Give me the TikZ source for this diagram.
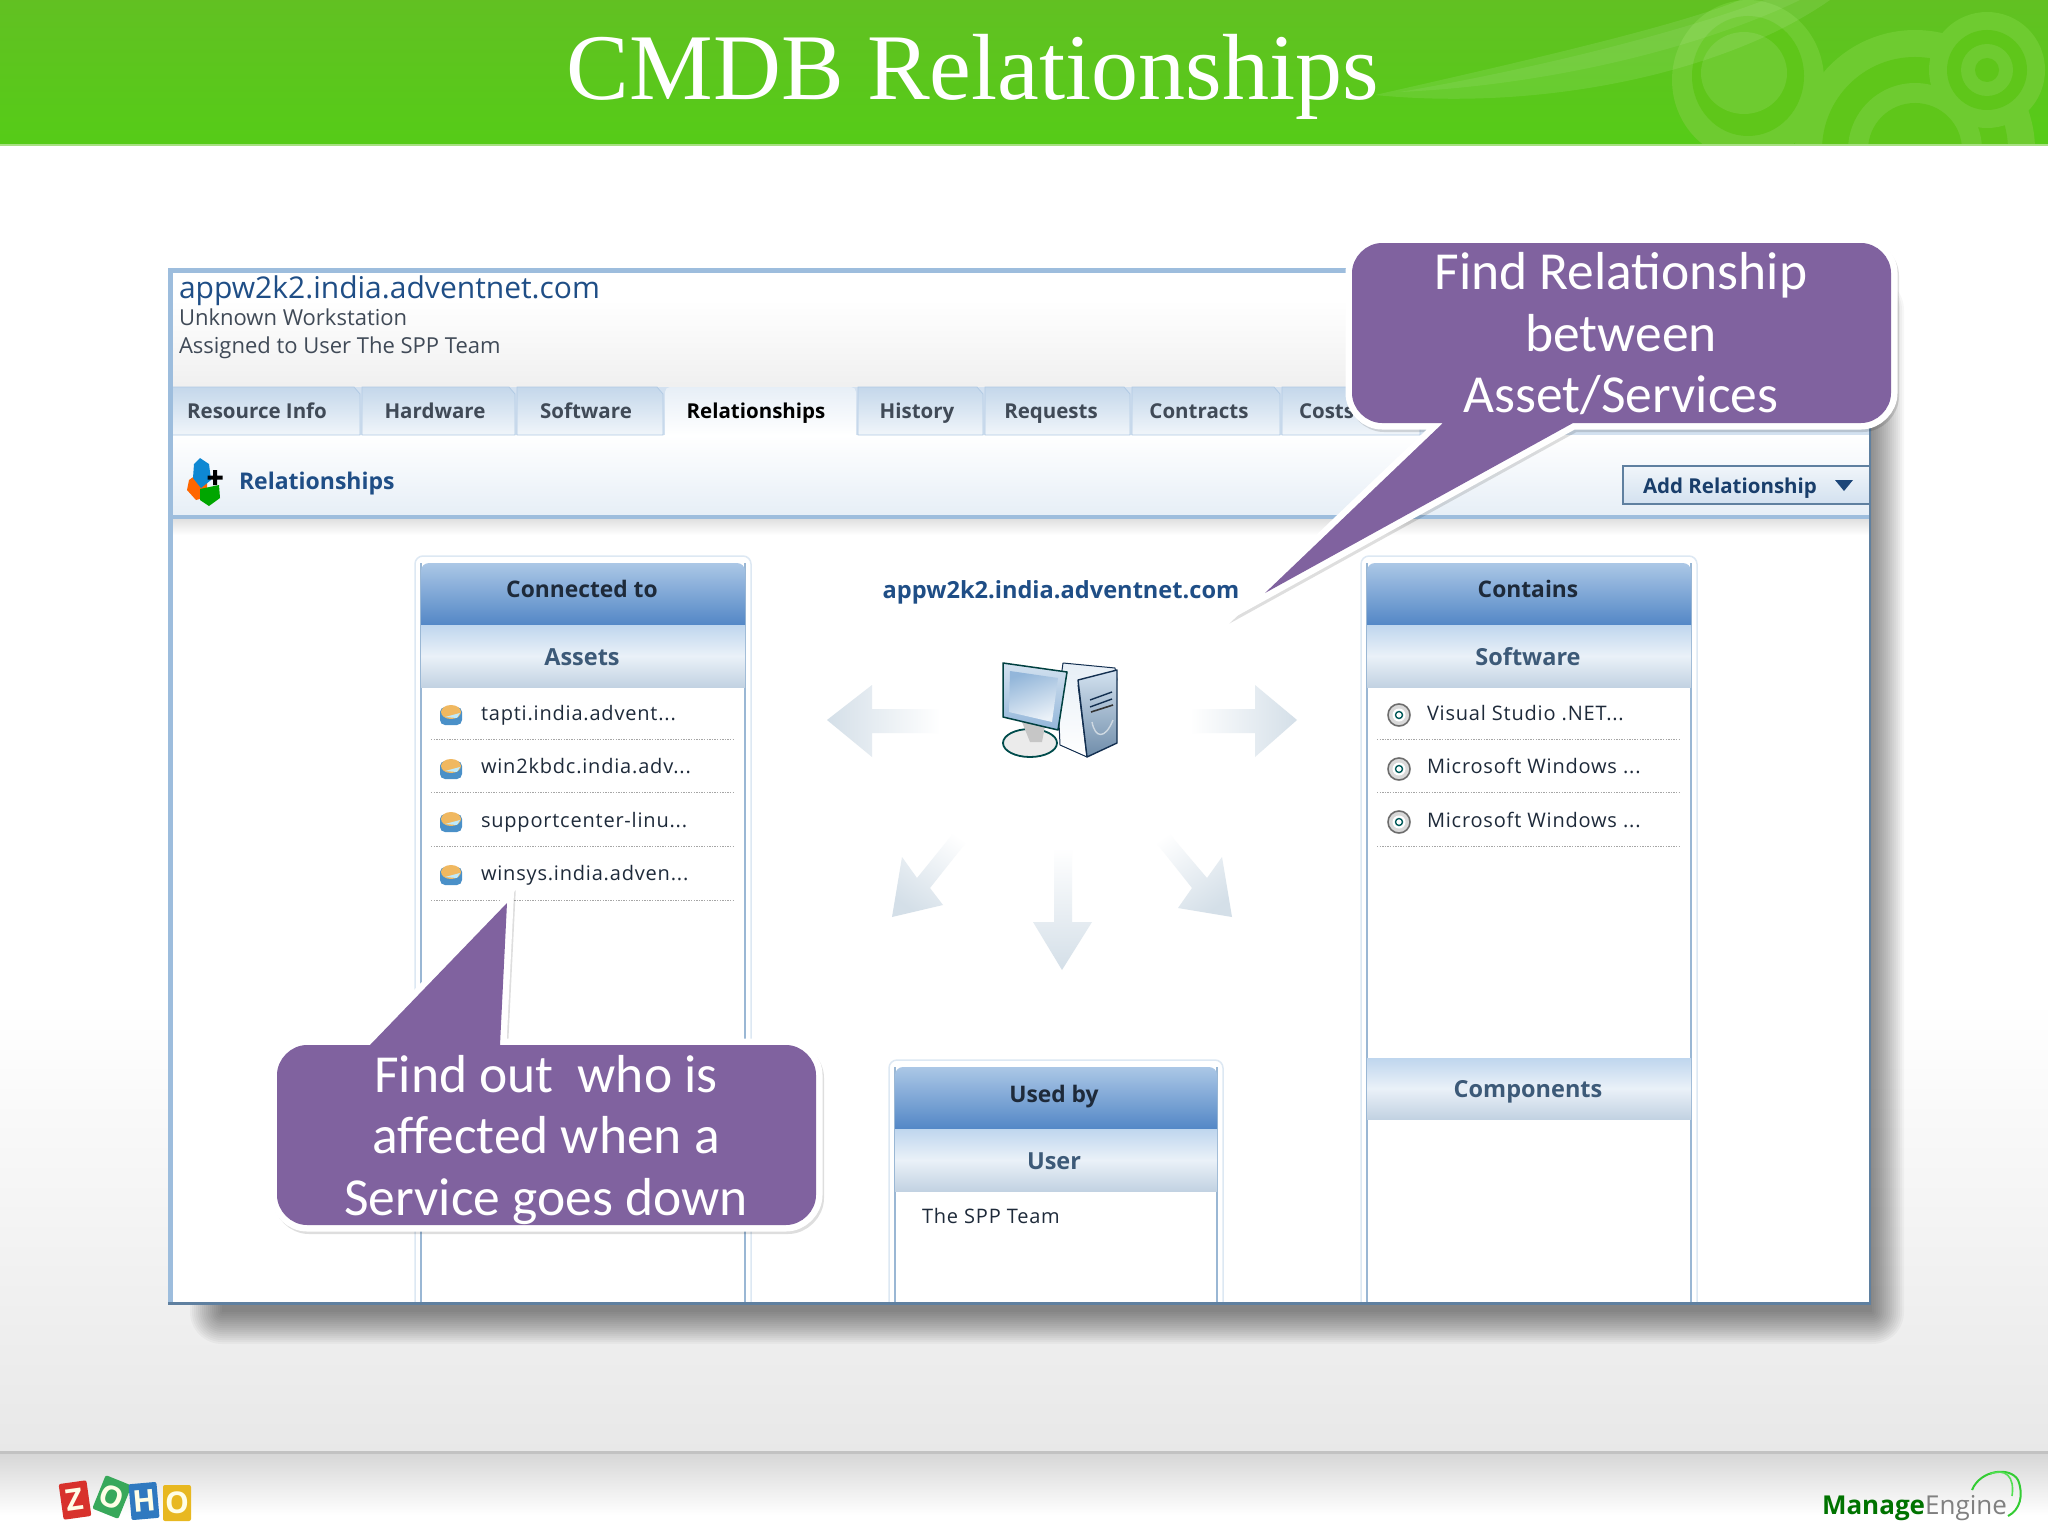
\documentclass[tikz,border=0pt]{standalone}
\usepackage{fontspec}
\setmainfont{Open Sans}
\newfontfamily\titlef{Liberation Serif}
\newfontfamily\callf{Carlito}
\newfontfamily\uif{Open Sans}
\newfontfamily\itemf[LetterSpace=4]{Open Sans}
\newcommand\fsz[1]{\fontsize{#1}{#1}\selectfont}
\definecolor{barg}{HTML}{5FC61A}
\definecolor{barl}{HTML}{6ECB30}
\definecolor{purp}{HTML}{80629F}
\definecolor{navy}{HTML}{1F4E86}
\definecolor{ink}{HTML}{1E2A3A}
\definecolor{headtop}{HTML}{ABC7E6}
\definecolor{headbot}{HTML}{5387C6}
\definecolor{bandtop}{HTML}{BFD6EE}
\definecolor{bandmid}{HTML}{EAF1F8}
\definecolor{bandbot}{HTML}{C2D2E2}
\definecolor{bandink}{HTML}{3D5A78}
\definecolor{frm}{HTML}{9DBDDD}
\definecolor{frd}{HTML}{5F80A0}
\definecolor{arw}{HTML}{D4DFE8}
\definecolor{ztr}{HTML}{D8322C}
\definecolor{ztg}{HTML}{38A85A}
\definecolor{ztb}{HTML}{2F79C0}
\definecolor{zty}{HTML}{E8B820}
\definecolor{diskt}{HTML}{F0B860}
\definecolor{diskb}{HTML}{4A90C8}
\tikzset{
  x=1pt,y=-1pt,
  every node/.style={inner sep=0pt,outer sep=0pt},
  uitext/.style={font=\uif\fsz{22},text=ink!85},
  itemtext/.style={font=\itemf\fsz{20},text=ink,anchor=base west},
  tablabel/.style={font=\uif\bfseries\fsz{20.5},text=ink!85,anchor=base},
  headlabel/.style={font=\uif\bfseries\fsz{22.8},text=ink,anchor=base},
  bandlabel/.style={font=\uif\bfseries\fsz{23.5},text=bandink,anchor=base},
  calltext/.style={font=\callf\fontsize{53.5}{61.5}\selectfont,text=white,align=center},
  calloutbox/.style={
    preaction={draw=black,opacity=.13,line width=12pt,miter limit=20,transform canvas={shift={(2pt,-3pt)}}},
    preaction={draw=white,line width=13pt,miter limit=20},
    fill=purp},
  tabshape/.style={draw=frm!80,line width=.8pt,top color=frm!60,bottom color=frm!15},
  dotline/.style={draw=gray!70,line width=.9pt,dash pattern=on 1.3pt off 1.3pt},
  ztile/.style={minimum width=28pt,minimum height=36pt,rounded corners=2pt,font=\uif\bfseries\fsz{30},text=white!90!yellow},
}
\newcommand\uipanel[3]{% x1 x2 ytop
  \fill[white,rounded corners=8pt] (#1-6,#3-7) rectangle (#2+6,1302);
  \draw[frm!35,line width=1.5pt,rounded corners=8pt] (#1-6,1302) -- (#1-6,#3-7) -- (#2+6,#3-7) -- (#2+6,1302);
  \draw[frm!90!gray,line width=1.6pt] (#1,#3) -- (#1,1302) (#2,#3) -- (#2,1302);
  \shade[top color=headtop,bottom color=headbot] (#1,#3+62) {[rounded corners=8pt] -- (#1,#3) -- (#2,#3)} -- (#2,#3+62) -- cycle;
  \shade[top color=bandtop,bottom color=bandbot,middle color=bandmid] (#1,#3+62) rectangle (#2,#3+124);
}
\newcommand\diskicon[2]{%
  \fill[diskb,rounded corners=5pt] (#1-11,#2-8) rectangle (#1+11,#2+10);
  \fill[diskt] (#1,#2-3) ellipse [x radius=10,y radius=7];
  \fill[cyan!25] (#1-6,#2+2) -- (#1+9,#2-2) -- (#1+6,#2+3) -- cycle;
}
\newcommand\softicon[2]{%
  \fill[gray!30] (#1,#2) circle (12);
  \draw[gray!85!black,line width=1.5pt] (#1,#2) circle (11);
  \fill[white] (#1,#2) circle (6.5);
  \draw[teal!70!black,line width=1.4pt] (#1,#2) circle (3.5);
}
\begin{document}
\begin{tikzpicture}
\useasboundingbox (0,0) rectangle (2048,1536);
% slide background
\fill[white] (0,145) rectangle (2048,1000);
\shade[top color=white,bottom color=black!9] (0,1000) rectangle (2048,1452);
\shade[top color=black!16,bottom color=white] (0,1453) rectangle (2048,1515);
\fill[white] (0,1515) rectangle (2048,1536);
\fill[black!24] (0,1451) rectangle (2048,1454);
% title band
\begin{scope}
  \clip (0,0) rectangle (2048,145);
  \shade[top color=barg!92!gray,bottom color=barg!90!green] (0,0) rectangle (2048,145);
  \fill[barl] (1748,80) circle [x radius=76,y radius=80];
  \fill[barg] (1748,76) circle [x radius=56,y radius=60];
  \fill[barl] (1744,73) circle [x radius=43,y radius=41];
  \fill[barl] (1915,150) circle (120);
  \fill[barg] (1915,150) circle (93);
  \fill[barl] (1915,150) circle (67);
  \fill[barg] (1915,150) circle (47);
  \fill[barl] (1987,70) circle (58);
  \fill[barg] (1987,70) circle (40);
  \fill[barl] (1987,70) circle (26);
  \fill[barg] (1987,70) circle (12);
  \fill[white,opacity=.09] (1375,95) .. controls (1530,60) and (1680,25) .. (1740,0) -- (1830,0) .. controls (1730,70) and (1550,112) .. (1375,95) -- cycle;
  \fill[white,opacity=.07] (1400,92) .. controls (1540,68) and (1680,32) .. (1765,0) -- (1800,0) .. controls (1700,48) and (1550,85) .. (1400,92) -- cycle;
\end{scope}
\fill[barl!60!white] (0,144) rectangle (2048,146.5);
\node[font=\titlef\fsz{94},text=white] (title) at (973,77) {CMDB Relationships};
% screenshot shadow
\foreach \k in {32,30,...,0}{
  \fill[black,opacity=.033,rounded corners=\k pt] (222-\k,310-\k) rectangle (1872+\k,1312+\k);
}
% screenshot frame
\fill[white] (170,270) rectangle (1870,1302);
\fill[frm!45] (170,385) rectangle (1870,435);
\shade[top color=white,bottom color=frm!25] (170,435) rectangle (1870,515);
\shade[top color=black!12,bottom color=white] (170,519) rectangle (1870,535);
\shade[top color=white,bottom color=black!6] (170,300) rectangle (1870,386);
% tabs
\foreach \a/\b in {172/360,362/515,517/663,858/983,985/1130,1132/1280,1282/1420}{
  \path[tabshape] (\a,435) -- (\a,387) -- (\b-6,387) -- (\b,394) -- (\b,435) -- cycle;
}
\shade[top color=frm!25,bottom color=white] (665,435) {[rounded corners=5pt] -- (665,387) -- (856,387)} -- (856,435) -- cycle;
\fill[frm] (170,515) rectangle (1870,519);
\node[font=\uif\fsz{30},text=navy,anchor=base west] (host) at (179,298) {appw2k2.india.adventnet.com};
\node[uitext,anchor=base west] (kind) at (179,325) {Unknown Workstation};
\node[uitext,anchor=base west] (user) at (179,353) {Assigned to User The SPP Team};
\node[tablabel] (t1) at (257,418) {Resource Info};
\node[tablabel] (t2) at (435,418) {Hardware};
\node[tablabel] (t3) at (586,418) {Software};
\node[tablabel,text=black] (t4) at (756,418) {Relationships};
\node[tablabel] (t5) at (917,418) {History};
\node[tablabel] (t6) at (1051,418) {Requests};
\node[tablabel] (t7) at (1199,418) {Contracts};
\node[tablabel,anchor=base west] (t8) at (1299,418) {Costs};
% relationship icon
\fill[orange!80!red] (196,475) -- (207,482) -- (207,497) -- (196,500) -- (187,490) -- (189,480) -- cycle;
\fill[cyan!70!blue] (200,458) -- (209,464) -- (211,480) -- (201,488) -- (193,478) -- (194,464) -- cycle;
\fill[green!65!black] (200,489) -- (219,485) -- (220,498) -- (209,506) -- (200,500) -- cycle;
\fill[black] (213,470) rectangle (217,485) (207.5,475.5) rectangle (222.5,479.5);
\node[font=\uif\bfseries\fsz{23},text=navy,anchor=base west] (relh) at (239,489) {Relationships};
% add relationship button
\path[top color=frm!15,bottom color=frm!45,draw=frd,line width=1.2pt] (1870,466) -- (1623,466) -- (1623,504) -- (1870,504);
\node[tablabel,text=navy!80!black,anchor=base west] (add) at (1643,493) {Add Relationship};
\fill[navy!90!black] (1835,480) -- (1853,480) -- (1844,491) -- cycle;
% panels
\uipanel{421}{745}{563}
\node[headlabel] (p1) at (582,597) {Connected to};
\node[bandlabel] (p1b) at (582,665) {Assets};
\foreach \y/\t/\n in {720/{tapti.india.advent...}/a,773/{win2kbdc.india.adv...}/b,827/{supportcenter-linu...}/c,880/{winsys.india.adven...}/d}{
  \node[itemtext] (as\n) at (481,\y) {\t};
}
\foreach \y in {715,769,822,875}{\diskicon{451}{\y}}
\foreach \y in {739,792,846,900}{\draw[dotline] (431,\y) -- (733,\y);}
\uipanel{1367}{1691}{563}
\node[headlabel] (p2) at (1528,597) {Contains};
\node[bandlabel] (p2b) at (1528,665) {Software};
\foreach \y/\t/\n in {720/{Visual Studio .NET...}/a,773/{Microsoft Windows ...}/b,827/{Microsoft Windows ...}/c}{
  \node[itemtext] (sw\n) at (1427,\y) {\t};
}
\foreach \y in {715,769,822}{\softicon{1399}{\y}}
\foreach \y in {739,792,846}{\draw[dotline] (1377,\y) -- (1679,\y);}
\shade[top color=bandtop,bottom color=bandbot,middle color=bandmid] (1367,1058) rectangle (1691,1119);
\node[bandlabel] (p2c) at (1528,1097) {Components};
\uipanel{895}{1217}{1067}
\node[headlabel] (p3) at (1054,1102) {Used by};
\node[bandlabel] (p3b) at (1054,1169) {User};
\node[itemtext] (p3t) at (922,1223) {The SPP Team};
% frame lines
\draw[frm,line width=5pt] (170,1304) -- (170,270) -- (1870,270);
\draw[frd,line width=2.5pt] (1870,270) -- (1870,1303);
\draw[frd,line width=3pt] (168,1303) -- (1871,1303);
% centre
\node[font=\uif\bfseries\fsz{23.6},text=navy] (centre) at (1061,592) {appw2k2.india.adventnet.com};
% pale arrows
\path[left color=arw,right color=white] (827,720) -- (872,685) -- (872,709) -- (940,709) -- (940,733) -- (872,733) -- (872,757) -- cycle;
\path[left color=white,right color=arw] (1297,720) -- (1255,685) -- (1255,709) -- (1190,709) -- (1190,733) -- (1255,733) -- (1255,757) -- cycle;
\path[top color=white,bottom color=arw] (1062,970) -- (1033,922) -- (1054,922) -- (1054,848) -- (1072,848) -- (1072,922) -- (1092,922) -- cycle;
\path[top color=white,bottom color=arw,shading angle=-35] (892,917) -- (902,857) -- (917,878) -- (960,825) -- (972,835) -- (930,888) -- (943,905) -- cycle;
\path[top color=white,bottom color=arw,shading angle=35] (1232,917) -- (1222,857) -- (1207,878) -- (1162,825) -- (1150,835) -- (1192,888) -- (1178,908) -- cycle;
% computer icon
\begin{scope}[line join=round]
  \path[draw=teal!60!black,line width=1.8pt,fill=black!8] (1030,743) ellipse [x radius=27,y radius=14];
  \fill[gray!45] (1022,722) -- (1045,726) -- (1042,742) -- (1030,742) -- cycle;
  \path[draw=navy!60!black,line width=1pt,top color=frm!25,bottom color=white] (1063,663) -- (1115,668) -- (1117,680) -- (1078,685) -- (1087,757) -- (1060,745) -- (1058,700) -- cycle;
  \path[draw=navy!60!black,line width=1.4pt,top color=frm!45,bottom color=frd!90] (1078,680) -- (1117,670) -- (1117,743) -- (1087,757) -- cycle;
  \draw[navy!60!black,line width=1.4pt] (1090,700) -- (1112,692) (1090,707) -- (1112,699);
  \draw[black!80,line width=1.6pt] (1091,712) -- (1113,705);
  \draw[white!70!frd,line width=1.4pt] (1092,722) .. controls (1095,738) and (1105,740) .. (1113,720);
  \path[draw=teal!50!black,line width=1.5pt,top color=frm!45,bottom color=frm!110] (1003,663) -- (1067,672) -- (1058,730) -- (1003,717) -- cycle;
  \path[top color=frm!110,bottom color=frm!20,shading angle=20] (1010,671) -- (1058,678) -- (1052,722) -- (1009,712) -- cycle;
\end{scope}
% callouts
\path[calloutbox] (1382,243) -- (1861,243) .. controls (1877,243) and (1891,257) .. (1891,273) -- (1891,393) .. controls (1891,409) and (1877,423) .. (1861,423) -- (1573,423) -- (1265,593) -- (1443,423) -- (1382,423) .. controls (1366,423) and (1352,409) .. (1352,393) -- (1352,273) .. controls (1352,257) and (1366,243) .. (1382,243) -- cycle;
\node[calltext] (c1) at (1621,334) {Find Relationship\\between\\Asset/Services};
\path[calloutbox] (307,1045) -- (370,1045) -- (507,903) -- (500,1045) -- (786,1045) .. controls (802,1045) and (816,1059) .. (816,1075) -- (816,1195) .. controls (816,1211) and (802,1225) .. (786,1225) -- (307,1225) .. controls (291,1225) and (277,1211) .. (277,1195) -- (277,1075) .. controls (277,1059) and (291,1045) .. (307,1045) -- cycle;
\node[calltext] (c2) at (546,1140) {Find out\ \ who is\\affected when a\\Service goes down};
% zoho logo
\node[ztile,rotate=8,fill=ztr] (z1) at (75,1500) {Z};
\node[ztile,rotate=-22,fill=ztg] (z2) at (112,1497) {O};
\node[ztile,rotate=5,fill=ztb] (z3) at (144,1501) {H};
\node[ztile,fill=zty] (z4) at (177,1503) {O};
% ManageEngine logo
\node[anchor=west,font=\uif\fsz{26}] (me) at (1822,1508) {\textcolor{green!45!black}{\bfseries Manage}\textcolor{gray}{Engine}};
\draw[green!60!gray,line width=2pt] (1972,1490) .. controls (1980,1470) and (2010,1466) .. (2018,1480) .. controls (2024,1495) and (2020,1510) .. (2008,1516);
\draw[green!70!gray!80,line width=1.6pt] (1990,1474) .. controls (2005,1468) and (2015,1476) .. (2012,1496);
\end{tikzpicture}
\end{document}
